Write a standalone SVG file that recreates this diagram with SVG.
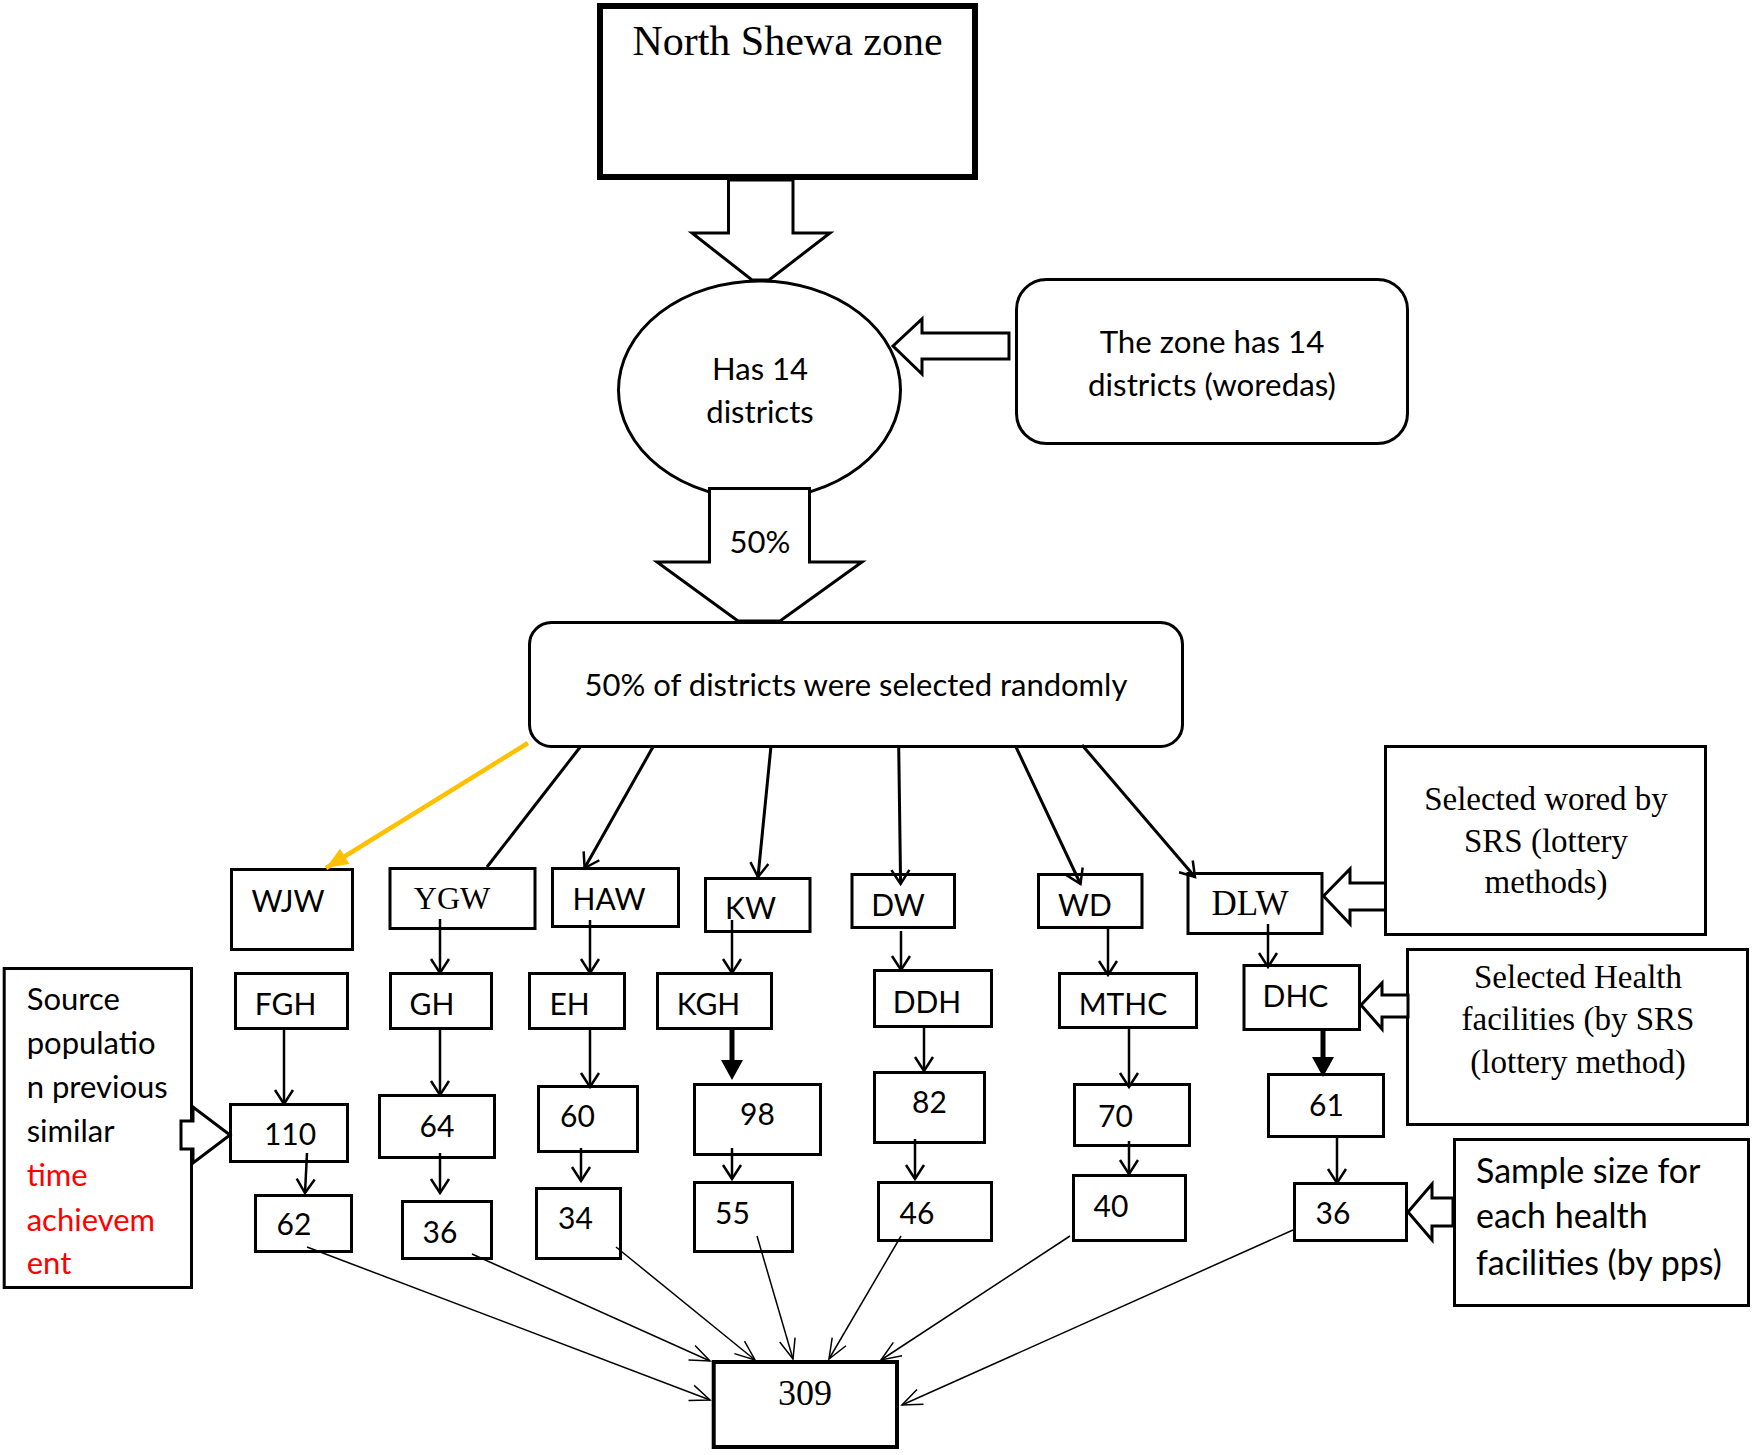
<svg xmlns="http://www.w3.org/2000/svg" width="1755" height="1455" viewBox="0 0 1755 1455">
<style>
.b{fill:#fff;stroke:#000;stroke-width:3}
.t{font-family:Lato,"Noto Sans",sans-serif;font-size:30px;fill:#000;text-anchor:middle}
.s{font-family:"Liberation Serif",serif;fill:#000;text-anchor:middle}
.l{text-anchor:start}
.r{fill:#FF0000}
.f31{font-size:31px}
.f33{font-size:31.3px}
.f37{font-size:34px}
.c{stroke:#000;stroke-width:2.5;fill:none}
.c3{stroke:#000;stroke-width:3;fill:none}
.th{stroke:#000;stroke-width:1.5;fill:none}
.ba{fill:#fff;stroke:#000;stroke-width:3;stroke-linejoin:miter}
</style>
<defs>
<marker id="v" viewBox="0 0 24 24" markerWidth="24" markerHeight="24" refX="21" refY="12" orient="auto" markerUnits="userSpaceOnUse"><path d="M7,3 L21,12 L7,21" fill="none" stroke="#000" stroke-width="2.5"/></marker>
<marker id="vt" viewBox="0 0 30 30" markerWidth="30" markerHeight="30" refX="27" refY="15" orient="auto" markerUnits="userSpaceOnUse"><path d="M7,7 L27,15 L7,23" fill="none" stroke="#000" stroke-width="1.5"/></marker>
<marker id="y" viewBox="0 0 26 26" markerWidth="26" markerHeight="26" refX="24" refY="13" orient="auto" markerUnits="userSpaceOnUse"><path d="M2,4 L24,13 L2,22 z" fill="#FFC000"/></marker>
</defs>
<rect width="1755" height="1455" fill="#fff"/>

<g id="north-shewa"><rect x="600" y="6" width="375" height="171" fill="#fff" stroke="#000" stroke-width="6"/><text class="s" x="787.5" y="55" font-size="42">North Shewa zone</text></g>
<g id="has14"><ellipse cx="759.5" cy="390" rx="141" ry="109" class="b"/><text class="t f31" x="760" y="380">Has 14</text><text class="t f31" x="760" y="423">districts</text></g>
<g id="zone-note"><rect x="1016.5" y="279.5" width="391" height="164" rx="30" class="b"/><text class="t f33" x="1212" y="353">The zone has 14</text><text class="t f33" x="1212" y="396">districts (woredas)</text></g>
<g id="selected-random"><rect x="529.5" y="622.5" width="653" height="124" rx="22" class="b"/><text class="t f31" x="856" y="696">50% of districts were selected randomly</text></g>

<g id="WJW"><rect x="231.5" y="869.5" width="121" height="80" class="b"/><text class="t" x="288" y="912">WJW</text></g>
<g id="YGW"><rect x="390" y="868.5" width="145" height="60" class="b"/><text class="s" x="452" y="909" font-size="32">YGW</text></g>
<g id="HAW"><rect x="552.5" y="868.5" width="126" height="58" class="b"/><text class="t" x="609" y="910">HAW</text></g>
<g id="KW"><rect x="705.5" y="878.5" width="104.5" height="53" class="b"/><text class="t" x="750.5" y="919">KW</text></g>
<g id="DW"><rect x="852" y="874.5" width="102.5" height="53" class="b"/><text class="t" x="898" y="916">DW</text></g>
<g id="WD"><rect x="1038.5" y="874.5" width="103.5" height="53" class="b"/><text class="t" x="1085" y="916">WD</text></g>
<g id="DLW"><rect x="1188" y="873.5" width="134" height="60" class="b"/><text class="s" x="1250" y="915" font-size="35">DLW</text></g>
<g id="note-wored"><rect x="1385.5" y="746.5" width="320" height="188" class="b"/><text class="s" x="1546" y="810" font-size="33">Selected wored by</text><text class="s" x="1546" y="851.5" font-size="33">SRS (lottery</text><text class="s" x="1546" y="893" font-size="33">methods)</text></g>

<g id="FGH"><rect x="235.5" y="973.5" width="112" height="55" class="b"/><text class="t" x="285.5" y="1015">FGH</text></g>
<g id="GH"><rect x="390.5" y="973.5" width="101" height="55" class="b"/><text class="t" x="432" y="1015">GH</text></g>
<g id="EH"><rect x="529.5" y="973.5" width="95" height="55" class="b"/><text class="t" x="569.5" y="1015">EH</text></g>
<g id="KGH"><rect x="657.5" y="973.5" width="114" height="55" class="b"/><text class="t" x="708.5" y="1015">KGH</text></g>
<g id="DDH"><rect x="874.5" y="970.5" width="117" height="56" class="b"/><text class="t" x="927" y="1013">DDH</text></g>
<g id="MTHC"><rect x="1059.5" y="973.5" width="137" height="54" class="b"/><text class="t" x="1123" y="1015">MTHC</text></g>
<g id="DHC"><rect x="1244" y="965.5" width="115.5" height="64" class="b"/><text class="t" x="1295.5" y="1007">DHC</text></g>
<g id="note-health"><rect x="1407.5" y="949.5" width="340" height="175" class="b"/><text class="s" x="1578" y="988" font-size="33">Selected Health</text><text class="s" x="1578" y="1030" font-size="33">facilities (by SRS</text><text class="s" x="1578" y="1073" font-size="33">(lottery method)</text></g>

<g id="n110"><rect x="230.5" y="1104.5" width="117" height="57" class="b"/><text class="t" x="290" y="1145">110</text></g>
<g id="n64"><rect x="379.5" y="1095.5" width="115" height="62" class="b"/><text class="t" x="437" y="1137">64</text></g>
<g id="n60"><rect x="538.5" y="1086.5" width="99" height="65" class="b"/><text class="t" x="577.5" y="1127">60</text></g>
<g id="n98"><rect x="694.5" y="1084.5" width="126" height="70" class="b"/><text class="t" x="757.5" y="1125">98</text></g>
<g id="n82"><rect x="874.5" y="1072.5" width="110" height="70" class="b"/><text class="t" x="929.5" y="1113">82</text></g>
<g id="n70"><rect x="1074.5" y="1084.5" width="115" height="61" class="b"/><text class="t" x="1115.5" y="1127">70</text></g>
<g id="n61"><rect x="1268.5" y="1074.5" width="115" height="62" class="b"/><text class="t" x="1326.5" y="1116">61</text></g>

<g id="n62"><rect x="255.5" y="1195.5" width="96" height="56" class="b"/><text class="t" x="294" y="1235">62</text></g>
<g id="n36a"><rect x="402.5" y="1201.5" width="89" height="57" class="b"/><text class="t" x="440" y="1243">36</text></g>
<g id="n34"><rect x="536.5" y="1188.5" width="84" height="70" class="b"/><text class="t" x="575.5" y="1229">34</text></g>
<g id="n55"><rect x="694.5" y="1182.5" width="98" height="69" class="b"/><text class="t" x="732.5" y="1224">55</text></g>
<g id="n46"><rect x="878.5" y="1182.5" width="113" height="58" class="b"/><text class="t" x="917" y="1224">46</text></g>
<g id="n40"><rect x="1073.5" y="1175.5" width="112" height="65" class="b"/><text class="t" x="1111" y="1217">40</text></g>
<g id="n36b"><rect x="1294.5" y="1183.5" width="112" height="57" class="b"/><text class="t" x="1333" y="1224">36</text></g>
<g id="note-sample"><rect x="1454.5" y="1139.5" width="294" height="166" class="b"/><text class="t l f37" x="1476" y="1183">Sample size for</text><text class="t l f37" x="1476" y="1228">each health</text><text class="t l f37" x="1476" y="1275">facilities (by pps)</text></g>
<g id="note-source"><rect x="4.2" y="968.5" width="187.3" height="319" class="b"/><text class="t l f31" x="26.7" y="1010">Source</text><text class="t l f31" x="26.7" y="1054">populatio</text><text class="t l f31" x="26.7" y="1098">n previous</text><text class="t l f31" x="26.7" y="1142">similar</text><text class="t l r f31" x="26.7" y="1186">time</text><text class="t l r f31" x="26.7" y="1231">achievem</text><text class="t l r f31" x="26.7" y="1274">ent</text></g>
<g id="n309"><rect x="713.7" y="1362" width="183.3" height="85" fill="#fff" stroke="#000" stroke-width="4"/><text class="s" x="805" y="1405" font-size="36">309</text></g>

<g id="connectors">
<polygon class="ba" points="728.5,180 728.5,233 692,233 752,280 769,280 830,233 793,233 793,180"/>
<polygon class="ba" points="1009,333 922,333 922,319 893,346 922,374 922,359 1009,359"/>
<polygon class="ba" points="709.5,488.5 809.5,488.5 809.5,562 862,562 780,621 738,621 657,562 709.5,562"/>
<text class="t f31" x="760" y="553">50%</text>
<line x1="528" y1="743" x2="326" y2="868" stroke="#FFC000" stroke-width="4.5" marker-end="url(#y)"/>
<line class="c3" x1="581" y1="746" x2="487" y2="867"/>
<line class="c3" x1="653.5" y1="746" x2="584.6" y2="868" marker-end="url(#v)"/>
<line class="c3" x1="771" y1="746" x2="758" y2="877" marker-end="url(#v)"/>
<line class="c3" x1="898.7" y1="746" x2="900.6" y2="884" marker-end="url(#v)"/>
<line class="c3" x1="1016" y1="747" x2="1080.5" y2="884" marker-end="url(#v)"/>
<line class="c3" x1="1082" y1="745" x2="1195" y2="877" marker-end="url(#v)"/>
<polygon class="ba" points="1385.5,883 1350,883 1350,869 1323.5,896 1350,924 1350,910 1385.5,910"/>
<polygon class="ba" points="1408,995 1382,995 1382,983 1361,1005 1382,1029 1382,1017 1408,1017"/>
<polygon class="ba" points="1453,1198 1432,1198 1432,1184 1408,1212 1432,1240 1432,1226 1453,1226"/>
<polygon class="ba" points="181,1121 193,1121 193,1107 230,1135 193,1163 193,1149 181,1149"/>
<line class="c" x1="440" y1="919" x2="440" y2="973" marker-end="url(#v)"/>
<line class="c" x1="590" y1="920" x2="590" y2="973" marker-end="url(#v)"/>
<line class="c" x1="732" y1="920" x2="732" y2="973" marker-end="url(#v)"/>
<line class="c" x1="901" y1="931" x2="901" y2="970" marker-end="url(#v)"/>
<line class="c" x1="1108" y1="929" x2="1108" y2="975" marker-end="url(#v)"/>
<line class="c" x1="1268" y1="924" x2="1268" y2="967" marker-end="url(#v)"/>
<line class="c" x1="284" y1="1030" x2="284" y2="1104" marker-end="url(#v)"/>
<line class="c" x1="440" y1="1030" x2="440" y2="1095" marker-end="url(#v)"/>
<line class="c" x1="590" y1="1030" x2="590" y2="1087" marker-end="url(#v)"/>
<line class="c" x1="924" y1="1028" x2="924" y2="1071" marker-end="url(#v)"/>
<line class="c" x1="1129" y1="1029" x2="1129" y2="1087" marker-end="url(#v)"/>
<line x1="732" y1="1030" x2="732" y2="1062" stroke="#000" stroke-width="5"/>
<polygon points="721,1060 743,1060 732,1080" fill="#000"/>
<line x1="1323" y1="1031" x2="1323" y2="1059" stroke="#000" stroke-width="5"/>
<polygon points="1312,1057 1334,1057 1323,1077" fill="#000"/>
<line class="c" x1="307" y1="1153" x2="305" y2="1193" marker-end="url(#v)"/>
<line class="c" x1="440" y1="1153" x2="440" y2="1193" marker-end="url(#v)"/>
<line class="c" x1="581" y1="1148" x2="581" y2="1181" marker-end="url(#v)"/>
<line class="c" x1="732" y1="1148" x2="732" y2="1179" marker-end="url(#v)"/>
<line class="c" x1="915" y1="1139" x2="915" y2="1179" marker-end="url(#v)"/>
<line class="c" x1="1129" y1="1141" x2="1129" y2="1174" marker-end="url(#v)"/>
<line class="c" x1="1337" y1="1138" x2="1337" y2="1183" marker-end="url(#v)"/>
<line class="th" x1="307" y1="1247" x2="710" y2="1400" marker-end="url(#vt)"/>
<line class="th" x1="472" y1="1254" x2="710" y2="1361" marker-end="url(#vt)"/>
<line class="th" x1="616" y1="1247" x2="755" y2="1360" marker-end="url(#vt)"/>
<line class="th" x1="757" y1="1236" x2="793" y2="1359" marker-end="url(#vt)"/>
<line class="th" x1="901" y1="1236" x2="829" y2="1359" marker-end="url(#vt)"/>
<line class="th" x1="1070" y1="1236" x2="881" y2="1360" marker-end="url(#vt)"/>
<line class="th" x1="1293" y1="1230" x2="902" y2="1405" marker-end="url(#vt)"/>
</g>
</svg>
